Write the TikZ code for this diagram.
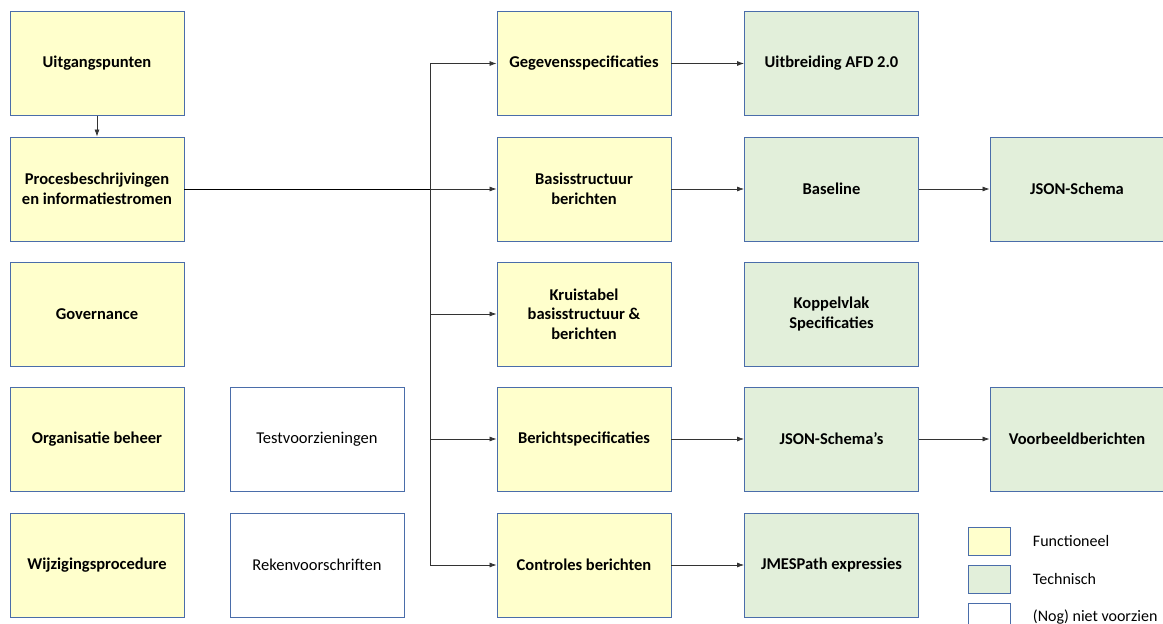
\documentclass[tikz,border=0pt]{standalone}
\usepackage{fontspec}
\setmainfont{Carlito}
\usetikzlibrary{arrows.meta}
\definecolor{boxline}{HTML}{4A6DAA}
\definecolor{funcfill}{HTML}{FFFFCC}
\definecolor{techfill}{HTML}{E2EFDA}
\begin{document}
\begin{tikzpicture}[x=1pt,y=-1pt,
    blok/.style={draw=boxline, line width=0.9pt, minimum width=174pt, minimum height=104pt,
      align=center, font=\fontsize{16.5}{19.5}\selectfont\bfseries, inner sep=2pt},
    func/.style={blok, fill=funcfill},
    tech/.style={blok, fill=techfill},
    leeg/.style={blok, fill=white, font=\fontsize{16.5}{19.5}\selectfont},
    pijl/.style={-{Latex[length=7pt,width=5pt]}, line width=0.7pt, black!80},
    legblok/.style={draw=boxline, line width=0.9pt, minimum width=42pt, minimum height=28pt, inner sep=0pt}]
        \useasboundingbox (0,0) rectangle (1163,624);

        % linker kolom
        \node [func] (uitg) at (97,63.5) {Uitgangspunten};
        \node [func] (proc) at (97,189) {Procesbeschrijvingen\\en informatiestromen};
        \node [func] (gov) at (97,314) {Governance};
        \node [func] (org) at (97,439) {Organisatie beheer};
        \node [func] (wijz) at (97,565) {Wijzigingsprocedure};

        \node [leeg] (test) at (317,439) {Testvoorzieningen};
        \node [leeg] (reken) at (317,565) {Rekenvoorschriften};

        % functionele specificaties
        \node [func] (gegev) at (584,63.5) {Gegevensspecificaties};
        \node [func] (basis) at (584,189) {Basisstructuur\\berichten};
        \node [func] (kruis) at (584,314) {Kruistabel\\basisstructuur \&\\berichten};
        \node [func] (bericht) at (584,439) {Berichtspecificaties};
        \node [func] (contr) at (584,565) {Controles berichten};

        % technische uitwerking
        \node [tech] (afd) at (831.5,63.5) {Uitbreiding AFD 2.0};
        \node [tech] (baseline) at (831.5,189) {Baseline};
        \node [tech] (koppel) at (831.5,314) {Koppelvlak\\Specificaties};
        \node [tech] (schemas) at (831.5,439) {JSON-Schema’s};
        \node [tech] (jmes) at (831.5,565) {JMESPath expressies};

        \node [tech] (schema) at (1077,189) {JSON-Schema};
        \node [tech] (voorb) at (1077,439) {Voorbeeldberichten};

        % verbindingen
        \draw [pijl] (uitg) -- (proc);
        \coordinate (split) at (430,189);
        \draw [line width=0.8pt] (proc) -- (split);
        \draw [line width=0.7pt, black!80] (split |- gegev) -- (split |- contr);
        \foreach \doel in {gegev, basis, kruis, bericht, contr}
          \draw [pijl] (split |- \doel) -- (\doel);

        \draw [pijl] (gegev) -- (afd);
        \draw [pijl] (basis) -- (baseline);
        \draw [pijl] (bericht) -- (schemas);
        \draw [pijl] (contr) -- (jmes);
        \draw [pijl] (baseline) -- (schema);
        \draw [pijl] (schemas) -- (voorb);

        % legenda
        \node [legblok, fill=funcfill] (legfunc) at (989,541) {};
        \node [legblok, fill=techfill] (legtech) at (989,579) {};
        \node [legblok, fill=white] (legleeg) at (989,617) {};
        \node [right=19pt, font=\fontsize{16}{19}\selectfont] (txtfunc) at (legfunc.east) {Functioneel};
        \node [right=19pt, font=\fontsize{16}{19}\selectfont] (txttech) at (legtech.east) {Technisch};
        \node [right=19pt, font=\fontsize{16}{19}\selectfont] (txtleeg) at (legleeg.east) {(Nog) niet voorzien};
      \end{tikzpicture}
\end{document}
